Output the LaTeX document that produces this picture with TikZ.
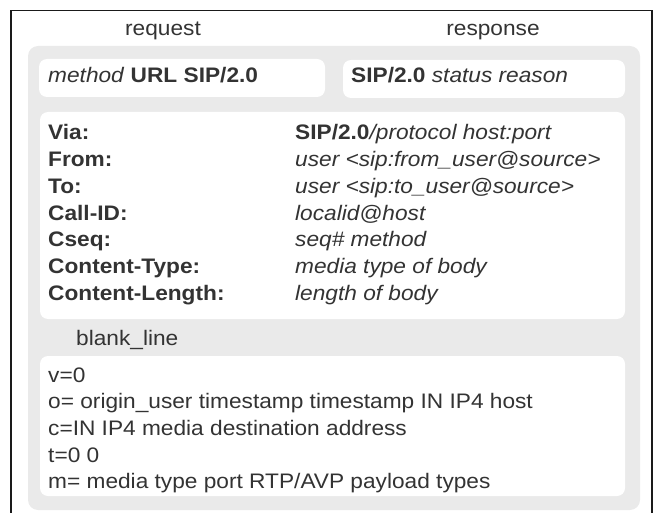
\documentclass[tikz,border=0pt]{standalone}
\usepackage{fontspec}
\setmainfont{Liberation Sans}[FakeStretch=1.08]
\usepackage{xcolor}
\usetikzlibrary{positioning}
\definecolor{ink}{HTML}{333333}
\definecolor{panelgray}{HTML}{EAEAEA}
\definecolor{framecol}{HTML}{1A1A1A}

\begin{document}
\begin{tikzpicture}[
    x=1pt, y=-1pt,
    panel/.style={fill=panelgray, rounded corners=10pt, inner sep=0pt},
    card/.style={fill=white, rounded corners=8pt, inner sep=0pt},
    txt/.style={font=\fontsize{21}{26.7}\selectfont\color{ink}, anchor=base west, inner sep=0pt},
    ttl/.style={font=\fontsize{21}{26.7}\selectfont\color{ink}, anchor=base, inner sep=0pt},
    fld/.style={txt, font=\fontsize{21}{26.7}\selectfont\bfseries\color{ink}},
    val/.style={txt, font=\fontsize{21}{26.7}\selectfont\itshape\color{ink}}
]
\useasboundingbox (0,0) rectangle (656,513);
\draw[framecol, line width=1.3pt] (11,514) -- (11,10.5) -- (652,10.5) -- (652,514);
% titles
\node[ttl] (req) at (163,36) {request};
\node[ttl] (resp) at (493,36) {response};
% grey message area and white parts
\node[panel, minimum width=612pt, minimum height=464pt] (msg) at (334,278) {};
\node[card, minimum width=286pt, minimum height=38pt] (reqline) at (182,78) {};
\node[card, minimum width=282pt, minimum height=38pt] (respline) at (484,79) {};
\node[card, minimum width=585pt, minimum height=207pt] (hdr) at (332.5,215.5) {};
\node[card, minimum width=585pt, minimum height=140pt] (sdp) at (332.5,426) {};
% start lines
\node[txt] (reqtxt) at (48,83) {\textit{method} \textbf{URL SIP/2.0}};
\node[txt] (resptxt) at (351,83) {\textbf{SIP/2.0} \textit{status reason}};
% header fields
\foreach \f [count=\i from 0] in {Via:, From:, To:, Call-ID:, Cseq:, Content-Type:, Content-Length:}
  \node[fld] (key\i) at (48,140+\i*26.7) {\f};
\foreach \v [count=\i from 0] in {{\upshape\bfseries SIP/2.0}/protocol host:port,
    user <sip:from\_user@source>, user <sip:to\_user@source>, localid@host,
    seq\# method, media type of body, length of body}
  \node[val] (val\i) at (295,140+\i*26.7) {\v};
\node[txt] (blank) at (76,345) {blank\_line};
% session description
\foreach \s [count=\i from 0] in {v=0, o= origin\_user timestamp timestamp IN IP4 host,
    c=IN IP4 media destination address, t=0 0, m= media type port RTP/AVP payload types}
  \node[txt] (sdp\i) at (48,382+\i*26.7) {\s};
\end{tikzpicture}
\end{document}
